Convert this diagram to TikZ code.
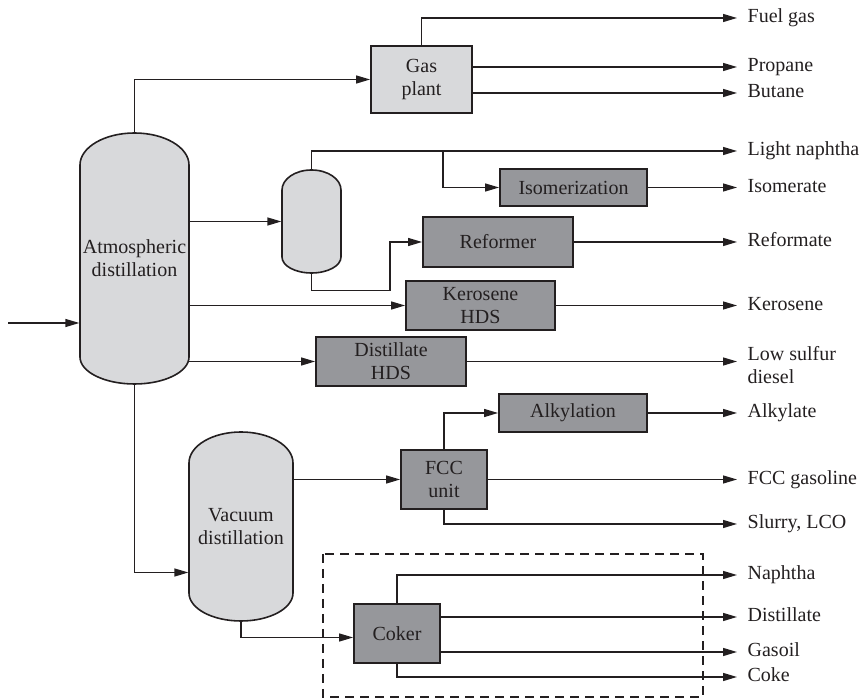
\documentclass[tikz,border=0pt]{standalone}
\usepackage{fontspec}
\setmainfont{Liberation Serif}
\usetikzlibrary{arrows.meta}
\definecolor{lightfill}{RGB}{216,217,219}
\definecolor{darkfill}{RGB}{150,151,155}
\definecolor{ink}{RGB}{35,31,32}

\begin{document}
\begin{tikzpicture}[x=0.5pt, y=-0.5pt, color=ink, line width=0.65pt,
    font=\rmfamily\fontsize{10}{11.5}\selectfont,
    unit/.style={draw, line width=0.9pt, fill=darkfill, rectangle, align=center, inner sep=0pt},
    gasbox/.style={draw, line width=0.9pt, fill=lightfill, rectangle, align=center, inner sep=0pt},
    vessel/.style={draw, line width=0.8pt, fill=lightfill},
    holder/.style={rectangle, align=center, inner sep=0pt},
    product/.style={anchor=west, inner sep=1pt, text height=7pt, text depth=2pt},
    flow/.style={-{Triangle[length=7pt,width=4pt]}},
    yield/.style={flow, shorten >=4pt}]
    \useasboundingbox (0,0) rectangle (864,699);
    \draw[dash pattern=on 4.5pt off 3pt] (323,554) rectangle (703,697);
    \draw[vessel] (80,357) -- (80,165) arc[start angle=180, end angle=0, x radius=27.25pt, y radius=16pt]
      -- (189,357) arc[start angle=0, end angle=-180, x radius=27.25pt, y radius=13.5pt] -- cycle;
    \draw[vessel] (282,257) -- (282,190) arc[start angle=180, end angle=0, x radius=14.75pt, y radius=10pt]
      -- (341,257) arc[start angle=0, end angle=-180, x radius=14.75pt, y radius=8pt] -- cycle;
    \draw[vessel] (189,593) -- (189,463) arc[start angle=180, end angle=0, x radius=26pt, y radius=15.5pt]
      -- (293,593) arc[start angle=0, end angle=-180, x radius=26pt, y radius=14pt] -- cycle;

    \node [holder, minimum width=54.5pt, minimum height=125.5pt] (atm) at (134.5,258.5) {Atmospheric\\distillation};
    \node [holder, minimum width=29.5pt, minimum height=51.5pt] (drum) at (311.5,221.5) {};
    \node [holder, minimum width=52pt, minimum height=94.5pt] (vac) at (241,526.5) {Vacuum\\distillation};
    \node [gasbox, minimum width=50.5pt, minimum height=33.5pt] (gasplant) at (421.5,79.5) {Gas\\plant};
    \node [unit, minimum width=73.5pt, minimum height=18.5pt] (isom) at (573.5,187.5) {Isomerization};
    \node [unit, minimum width=75pt, minimum height=25pt] (reformer) at (498,242) {Reformer};
    \node [unit, minimum width=74.5pt, minimum height=24.5pt] (kero) at (480.5,305.5) {Kerosene\\HDS};
    \node [unit, minimum width=75pt, minimum height=24.5pt] (dist) at (391,361.5) {Distillate\\HDS};
    \node [unit, minimum width=74pt, minimum height=19pt] (alky) at (573,413) {Alkylation};
    \node [unit, minimum width=43pt, minimum height=29.5pt] (fcc) at (444,479.5) {FCC\\unit};
    \node [unit, minimum width=43pt, minimum height=29.5pt] (coker) at (397,633.5) {Coker};

    \node [product] (fuelgas) at (745,18) {Fuel gas};
    \node [product] (propane) at (745,67) {Propane};
    \node [product] (butane) at (745,93) {Butane};
    \node [product] (lnaphtha) at (745,151) {Light naphtha};
    \node [product] (isomerate) at (745,187.5) {Isomerate};
    \node [product] (reformate) at (745,242) {Reformate};
    \node [product] (kerosene) at (745,305.5) {Kerosene};
    \node [anchor=west, inner sep=1pt, align=left] (diesel) at (745,365) {Low sulfur\\diesel};
    \node [product] (alkylate) at (745,413) {Alkylate};
    \node [product] (fccgas) at (745,479.5) {FCC gasoline};
    \node [product] (slurry) at (745,524) {Slurry, LCO};
    \node [product] (naphtha) at (745,575) {Naphtha};
    \node [product] (distillate) at (745,617) {Distillate};
    \node [product] (gasoil) at (745,652) {Gasoil};
    \node [product] (coke) at (745,677) {Coke};

    \coordinate (feed) at (8,323);
    \coordinate (tee) at (443,151);
    \draw[flow] (feed) -- (feed -| atm.west);
    \draw[flow] (atm.north) |- (gasplant.west);
    \draw[yield] (gasplant.north) |- (fuelgas.west);
    \draw[yield] (gasplant.east |- propane.west) -- (propane.west);
    \draw[yield] (gasplant.east |- butane.west) -- (butane.west);
    \draw[flow] (atm.east |- drum.west) -- (drum.west);
    \draw[yield] (drum.north) |- (lnaphtha.west);
    \draw[flow] (tee) |- (isom.west);
    \draw[yield] (isom.east) -- (isomerate.west);
    \draw[flow] (drum.south) -- ++(0,17) -| ([xshift=-16pt]reformer.west) -- (reformer.west);
    \draw[yield] (reformer.east) -- (reformate.west);
    \draw[flow] (atm.east |- kero.west) -- (kero.west);
    \draw[yield] (kero.east) -- (kerosene.west);
    \draw[flow] ([xshift=-1pt]atm.east |- dist.west) -- (dist.west);
    \draw[yield] (dist.east) -- (dist.east -| diesel.west);
    \draw[flow] (atm.south) |- ([yshift=-23pt]vac.west);
    \draw[flow] (vac.east |- fcc.west) -- (fcc.west);
    \draw[flow] (fcc.north) |- (alky.west);
    \draw[yield] (alky.east) -- (alkylate.west);
    \draw[yield] (fcc.east) -- (fccgas.west);
    \draw[yield] (fcc.south) |- (slurry.west);
    \draw[flow] (vac.south) |- ([yshift=-2pt]coker.west);
    \draw[yield] (coker.north) |- (naphtha.west);
    \draw[yield] (coker.east |- distillate.west) -- (distillate.west);
    \draw[yield] (coker.east |- gasoil.west) -- (gasoil.west);
    \draw[yield] (coker.south) |- (coke.west);
\end{tikzpicture}
\end{document}
